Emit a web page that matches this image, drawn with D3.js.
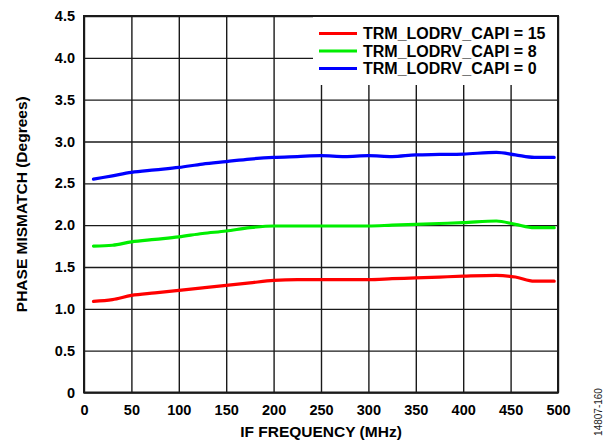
<html>
  <head>
    <meta charset="utf-8">
    <title>Phase Mismatch vs IF Frequency</title>
    <style>
    body{
      margin: 0;
      background-color: #fff;
    }
    text{
      font-family: "Liberation Sans", Arial, sans-serif;
    }
    </style>
    <script src="https://d3js.org/d3.v7.min.js"></script>
  </head>
  <body>
    <div id="container"></div>
    <script>
    //data (IF frequency in MHz, phase mismatch in degrees)
    var freqs = [10, 30, 50, 75, 100, 125, 150, 175, 200, 225, 250, 275, 300, 325, 350, 375, 400, 435, 455, 475, 496];
    var capi15 = [1.09, 1.11, 1.16, 1.19, 1.22, 1.25, 1.28, 1.31, 1.34, 1.35, 1.35, 1.35, 1.35, 1.36, 1.37, 1.38, 1.39, 1.40, 1.38, 1.33, 1.33];
    var capi8 = [1.75, 1.76, 1.80, 1.83, 1.86, 1.90, 1.93, 1.97, 1.99, 1.99, 1.99, 1.99, 1.99, 2.00, 2.01, 2.02, 2.03, 2.05, 2.01, 1.97, 1.97];
    var capi0 = [2.55, 2.59, 2.63, 2.66, 2.69, 2.73, 2.76, 2.79, 2.81, 2.82, 2.83, 2.82, 2.83, 2.82, 2.84, 2.845, 2.85, 2.87, 2.84, 2.81, 2.81];

    var seriesNames = ["TRM_LODRV_CAPI = 15", "TRM_LODRV_CAPI = 8", "TRM_LODRV_CAPI = 0"];
    var seriesColors = ["#ff0000", "#00ee00", "#0000ff"];
    var seriesValues = [capi15, capi8, capi0];

    var xTicks = [0, 50, 100, 150, 200, 250, 300, 350, 400, 450, 500];
    var yTicks = [0, 0.5, 1.0, 1.5, 2.0, 2.5, 3.0, 3.5, 4.0, 4.5];

    //size of the whole picture and the plot frame
    const width = 611,
          height = 440;
    const plotLeft = 84, plotRight = 558, plotTop = 16, plotBottom = 392.5;

    var x = d3.scaleLinear().domain([0, 500]).range([plotLeft, plotRight]);
    var y = d3.scaleLinear().domain([0, 4.5]).range([plotBottom, plotTop]);

    var svg = d3.select("#container")
      .append("svg")
      .attr("width", width)
      .attr("height", height);

    //grid lines
    svg.append("g")
      .attr("transform", "translate(0," + plotBottom + ")")
      .call(d3.axisBottom(x).tickValues(xTicks).tickSize(-(plotBottom - plotTop)).tickFormat(""))
      .call(g => g.select(".domain").remove())
      .selectAll("line")
      .attr("stroke", "#1a1a1a")
      .attr("stroke-width", 1.4);

    svg.append("g")
      .attr("transform", "translate(" + plotLeft + ",0)")
      .call(d3.axisLeft(y).tickValues(yTicks).tickSize(-(plotRight - plotLeft)).tickFormat(""))
      .call(g => g.select(".domain").remove())
      .selectAll("line")
      .attr("stroke", "#1a1a1a")
      .attr("stroke-width", 1.4);

    //tick labels
    svg.append("g")
      .attr("transform", "translate(0," + plotBottom + ")")
      .call(d3.axisBottom(x).tickValues(xTicks).tickSize(0).tickPadding(12))
      .call(g => g.select(".domain").remove())
      .selectAll("text")
      .style("font-family", "'Liberation Sans', Arial, sans-serif")
      .style("font-size", "14.5px")
      .style("font-weight", "bold")
      .attr("fill", "#000");

    svg.append("g")
      .attr("transform", "translate(" + plotLeft + ",0)")
      .call(d3.axisLeft(y).tickValues(yTicks).tickSize(0).tickPadding(9)
        .tickFormat(d => d === 0 ? "0" : d3.format(".1f")(d)))
      .call(g => g.select(".domain").remove())
      .selectAll("text")
      .style("font-family", "'Liberation Sans', Arial, sans-serif")
      .style("font-size", "14.5px")
      .style("font-weight", "bold")
      .attr("fill", "#000");

    //white legend box covers the grid
    svg.append("rect")
      .attr("x", 313)
      .attr("y", plotTop)
      .attr("width", plotRight - 313)
      .attr("height", 69)
      .attr("fill", "#fff");

    //the three curves
    var line = d3.line()
      .x((d, i) => x(freqs[i]))
      .y(d => y(d))
      .curve(d3.curveMonotoneX);

    svg.selectAll(".series")
      .data(seriesValues)
      .enter()
      .append("path")
      .attr("class", "series")
      .attr("d", d => line(d))
      .attr("fill", "none")
      .attr("stroke", (d, i) => seriesColors[i])
      .attr("stroke-width", 3.2)
      .attr("stroke-linecap", "round");

    //frame
    svg.append("rect")
      .attr("x", plotLeft)
      .attr("y", plotTop)
      .attr("width", plotRight - plotLeft)
      .attr("height", plotBottom - plotTop)
      .attr("fill", "none")
      .attr("stroke", "#1a1a1a")
      .attr("stroke-width", 2);

    //legend
    var legend = svg.selectAll(".legend")
      .data(seriesNames)
      .enter()
      .append("g")
      .attr("class", "legend")
      .attr("transform", (d, i) => "translate(319," + (33.5 + i * 17.5) + ")");

    legend.append("line")
      .attr("x1", 0)
      .attr("x2", 38)
      .attr("stroke", (d, i) => seriesColors[i])
      .attr("stroke-width", 3.2);

    legend.append("text")
      .attr("x", 44)
      .attr("y", 5.5)
      .style("font-size", "16px")
      .style("font-weight", "bold")
      .text(d => d);

    //axis titles
    svg.append("text")
      .attr("x", (plotLeft + plotRight) / 2)
      .attr("y", 437)
      .attr("text-anchor", "middle")
      .style("font-size", "15.5px")
      .style("font-weight", "bold")
      .text("IF FREQUENCY (MHz)");

    svg.append("text")
      .attr("transform", "translate(27," + (plotTop + plotBottom) / 2 + ") rotate(-90)")
      .attr("text-anchor", "middle")
      .style("font-size", "15.5px")
      .style("font-weight", "bold")
      .text("PHASE MISMATCH (Degrees)");

    //figure number
    svg.append("text")
      .attr("transform", "translate(602,412) rotate(-90)")
      .attr("text-anchor", "middle")
      .style("font-size", "10px")
      .attr("fill", "#222")
      .text("14807-160");
    </script>
  </body>
</html>
